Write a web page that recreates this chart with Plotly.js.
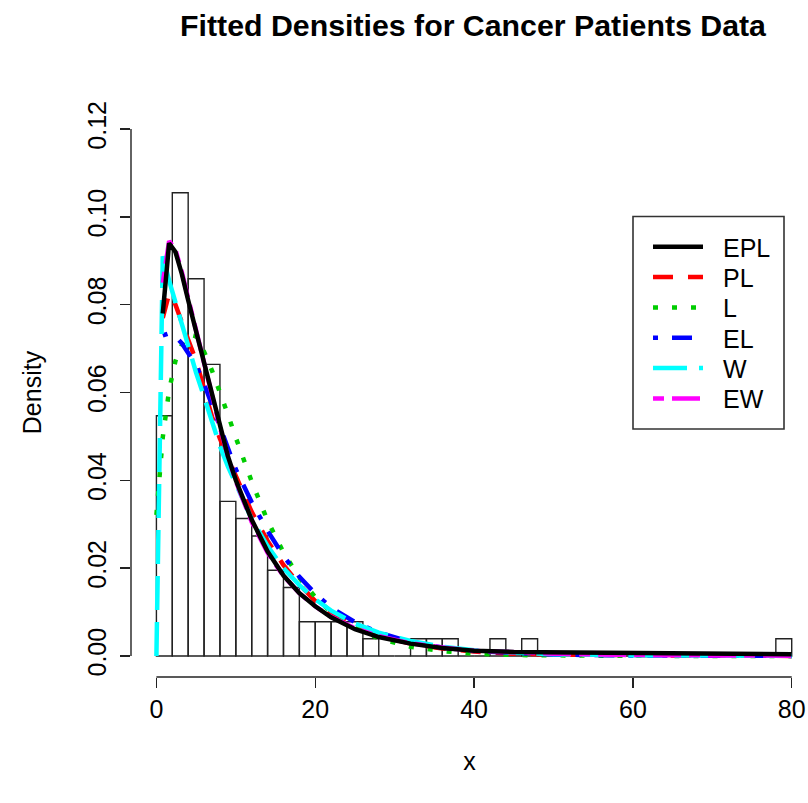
<!DOCTYPE html>
<html>
<head>
<meta charset="utf-8">
<script src="https://cdn.plot.ly/plotly-3.0.1.min.js"></script>
<style>html,body{margin:0;padding:0;background:#fff;}#chart{width:808px;height:803px;}</style>
</head>
<body>
<div id="chart"></div>
<script>
// Histogram (density scale), bins of width 2 starting at these edges
const binStart = [0,2,4,6,8,10,12,14,16,18,20,22,24,26,28,30,32,34,36,38,40,42,44,46,48,50,52,54,56,58,60,62,64,66,68,70,72,74,76,78];
const binDensity = [0.0547,0.1055,0.0859,0.0664,0.0352,0.0313,0.0273,0.0195,0.0156,0.0078,0.0078,0.0078,0.0078,0.0039,0,0,0.0039,0.0039,0.0039,0,0,0.0039,0,0.0039,0,0,0,0,0,0,0,0,0,0,0,0,0,0,0,0.0039];

// Fitted density curves
const xGrid = [0,0.8,1.6,2.4,3.2,4,5,6,7,8,9,10,12,14,16,18,20,22,25,28,32,36,40,45,50,60,70,80];
const dEPL = [null,0.078,0.094,0.092,0.087,0.081,0.074,0.066,0.059,0.052,0.0455,0.040,0.031,0.0238,0.0183,0.0143,0.0113,0.0088,0.0061,0.0043,0.0028,0.0018,0.0012,0.0009,0.0008,0.0006,0.0005,0.0004];
const dPL  = [null,0.077,0.0825,0.080,0.0757,0.072,0.0672,0.0605,0.0545,0.0495,0.045,0.041,0.0328,0.0262,0.0207,0.0163,0.0125,0.0097,0.0067,0.0046,0.0028,0.0017,0.0010,0.0005,0.0003,0.0001,0.00003,0.00001];
const dL   = [0.0321,0.0498,0.0605,0.0672,0.0708,0.0732,0.0728,0.0693,0.0650,0.0602,0.0550,0.0497,0.0397,0.0308,0.0236,0.0178,0.0134,0.0099,0.0064,0.0040,0.0021,0.0011,0.0005,0.0002,0.0001,0.00002,0,0];
const dEL  = [null,0.073,0.0735,0.0728,0.0712,0.069,0.0662,0.062,0.057,0.052,0.0468,0.0425,0.0350,0.0285,0.0228,0.0180,0.0142,0.0110,0.0077,0.0053,0.0032,0.0019,0.0011,0.0006,0.0003,0.0001,0.00003,0.00001];
const dW   = [0,0.091,0.0855,0.0805,0.0755,0.0705,0.0645,0.059,0.0535,0.0478,0.0432,0.0390,0.0312,0.0250,0.0200,0.0161,0.0129,0.0103,0.0074,0.0053,0.0034,0.0021,0.0013,0.0008,0.0004,0.00015,0.00006,0.00002];
const dEW  = [null,0.085,0.0945,0.0925,0.0875,0.0815,0.074,0.0665,0.059,0.052,0.0455,0.0398,0.0305,0.0235,0.0182,0.0143,0.0113,0.0089,0.0063,0.0045,0.0029,0.0019,0.0012,0.0008,0.0005,0.0002,0.0001,0.00004];

const seriesNames = ['EPL','PL','L','EL','W','EW'];
const seriesData = [dEPL,dPL,dL,dEL,dW,dEW];
const seriesColors = ['#000000','#FF0000','#00CD00','#0000FF','#00FFFF','#FF00FF'];
const seriesDash = ['solid','20px,15px','5px,14px','5px,14px,20px,14px','34px,12px','11px,8px,28px,8px'];
const drawOrder = [1,2,3,4,5,0];

const xTicks = [0,20,40,60,80];
const yTicks = [0,0.02,0.04,0.06,0.08,0.10,0.12];
const yTickText = ['0.00','0.02','0.04','0.06','0.08','0.10','0.12'];

const FONT = 'Liberation Sans, Arial, sans-serif';
const W = 808, H = 803, M = {l:131, r:0, t:108, b:126};
const px2x = p => (p - M.l) / (W - M.l - M.r);
const px2y = p => 1 - (p - M.t) / (H - M.t - M.b);

const traces = [{
  type:'bar', x: binStart, y: binDensity, width: 2, offset: 0,
  marker:{color:'rgba(0,0,0,0)', line:{color:'#222', width:1.4}},
  showlegend:false, hoverinfo:'skip'
}];
drawOrder.forEach(i => {
  traces.push({
    type:'scatter', mode:'lines', x: xGrid, y: seriesData[i], name: seriesNames[i],
    line:{color: seriesColors[i], width:4.5, dash: seriesDash[i]},
    showlegend:false, connectgaps:false, hoverinfo:'skip'
  });
});

// legend box drawn as in R's legend()
const shapes = [
  {type:'line', xref:'x', yref:'paper', x0:xTicks[0], x1:xTicks[xTicks.length-1], y0:0, y1:0, line:{color:'#222', width:1.4}},
  {type:'line', xref:'paper', yref:'y', x0:0, x1:0, y0:yTicks[0], y1:yTicks[yTicks.length-1], line:{color:'#222', width:1.4}},
  {type:'rect', xref:'paper', yref:'paper', x0:px2x(633), x1:px2x(784), y0:px2y(216.5), y1:px2y(429), line:{color:'#333', width:1.6}, fillcolor:'#fff', layer:'above'}
];
const annotations = [];
seriesNames.forEach((nm, i) => {
  const ry = 246.7 + 30.35 * i;
  shapes.push({type:'line', xref:'paper', yref:'paper', x0:px2x(653), x1:px2x(703), y0:px2y(ry), y1:px2y(ry),
               line:{color: seriesColors[i], width:4.5, dash: seriesDash[i]}, layer:'above'});
  annotations.push({xref:'paper', yref:'paper', x:px2x(721), y:px2y(ry + 1), xanchor:'left', yanchor:'middle',
                    text:nm, showarrow:false, font:{size:25, color:'#000', family:FONT}});
});

const layout = {
  width:W, height:H,
  margin:M,
  paper_bgcolor:'#fff', plot_bgcolor:'#fff',
  font:{family:FONT, size:25, color:'#000'},
  title:{text:'Fitted Densities for Cancer Patients Data', font:{family:FONT, size:30.3, weight:'bold', color:'#000'},
         xref:'container', x:473/W, xanchor:'center', yref:'container', y:1-25/H, yanchor:'middle'},
  xaxis:{range:[-3.2,82.05], tickvals:xTicks, ticks:'outside', ticklen:10, tickwidth:1.4, tickcolor:'#222',
         showline:false, zeroline:false, showgrid:false, tickfont:{size:25},
         title:{text:'x', font:{size:25}, standoff:30}},
  yaxis:{range:[-0.0048,0.1248], tickvals:yTicks, ticktext:yTickText, tickangle:-90, ticks:'outside', ticklen:10,
         tickwidth:1.4, tickcolor:'#222', showline:false, zeroline:false, showgrid:false, tickfont:{size:25},
         ticklabelstandoff:4, title:{text:'Density', font:{size:25}, standoff:34}},
  barmode:'overlay',
  showlegend:false,
  shapes: shapes,
  annotations: annotations
};
Plotly.newPlot('chart', traces, layout, {staticPlot:true, displayModeBar:false});
</script>
</body>
</html>
